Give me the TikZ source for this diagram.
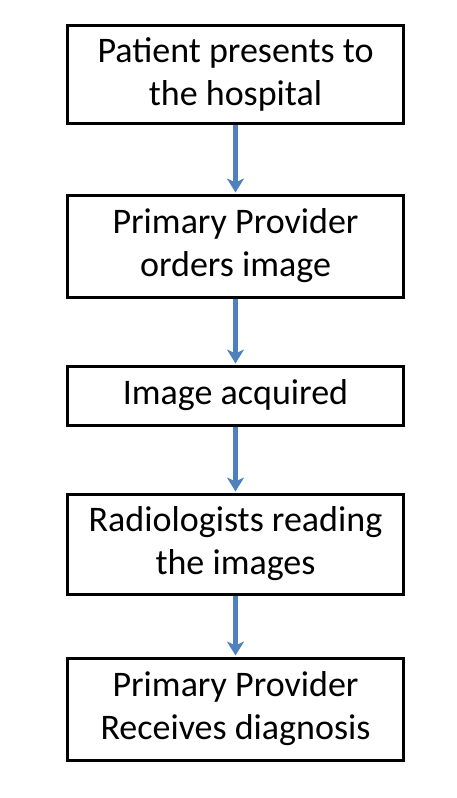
\documentclass[tikz,border=0pt]{standalone}
\usepackage{fontspec}
\setmainfont{Carlito}
\usetikzlibrary{arrows.meta}
\definecolor{arrowblue}{RGB}{79,129,189}
\tikzset{
  stepbox/.style={draw=black, line width=3pt, minimum width=336pt, align=center, font=\fontsize{36}{43}\selectfont, inner sep=0pt},
  flow/.style={draw=arrowblue, line width=4.2pt, -{Stealth[length=14pt,width=17pt,inset=4pt]}, shorten >=1pt}
}
\begin{document}
\begin{tikzpicture}[x=1pt,y=-1pt]
\useasboundingbox (0,0) rectangle (456,798);
\node[stepbox, minimum height=98pt] (a) at (235.5,74) {Patient presents to\\the hospital};
\node[stepbox, minimum height=102pt] (b) at (235.5,246) {Primary Provider\\orders image};
\node[stepbox, minimum height=59pt] (c) at (235.5,395.5) {Image acquired};
\node[stepbox, minimum height=100pt] (d) at (235.5,544) {Radiologists reading\\the images};
\node[stepbox, minimum height=102pt] (e) at (235.5,709) {Primary Provider\\Receives diagnosis};
\draw[flow] (a.south) -- (b.north);
\draw[flow] (b.south) -- (c.north);
\draw[flow] (c.south) -- (d.north);
\draw[flow] (d.south) -- (e.north);
\end{tikzpicture}
\end{document}
